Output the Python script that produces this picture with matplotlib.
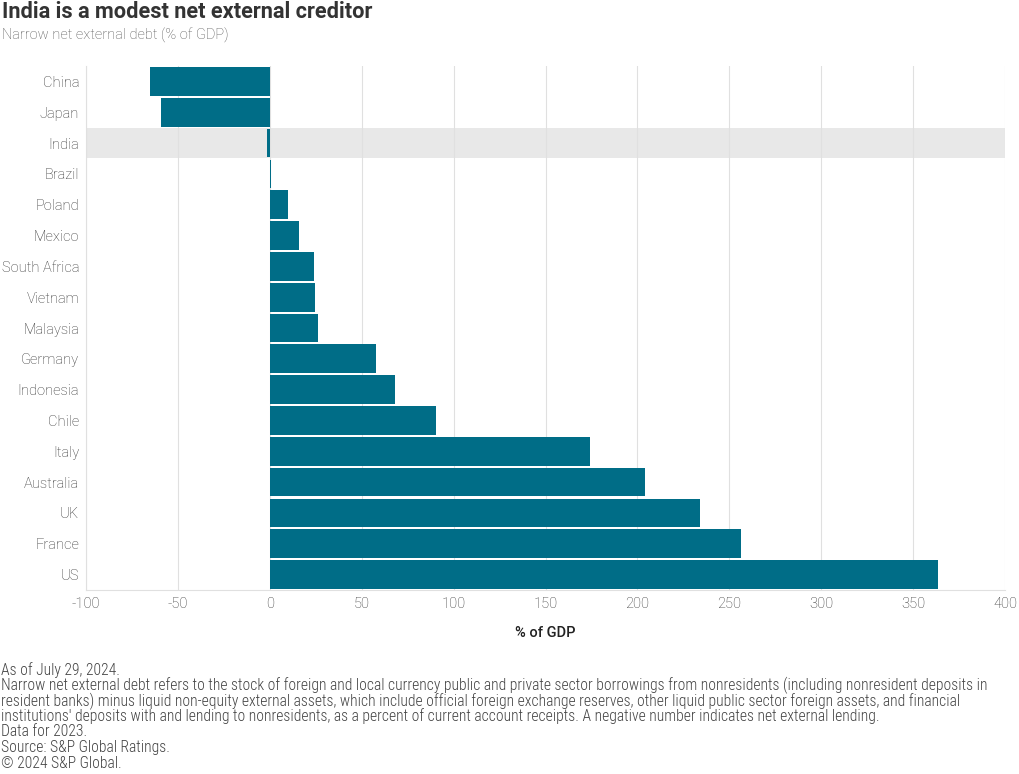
import matplotlib

matplotlib.use("Agg")
import matplotlib.pyplot as plt
from matplotlib import font_manager as fm

countries = ["China", "Japan", "India", "Brazil", "Poland", "Mexico", "South Africa",
             "Vietnam", "Malaysia", "Germany", "Indonesia", "Chile", "Italy",
             "Australia", "UK", "France", "US"]
values = [-65, -59, -1.5, 0.8, 10, 16, 24, 24.5, 26, 58, 68, 90.5, 174, 204, 234, 256.5, 363.5]
highlight = "India"
xticks = [-100, -50, 0, 50, 100, 150, 200, 250, 300, 350, 400]

BAR = "#006d87"
INK = "#333333"
TICK = "#333333"
GRID = "#e0e0e0"

names = {f.name for f in fm.fontManager.ttflist}
NARROW = next((n for n in ["Roboto Condensed", "Liberation Sans Narrow", "DejaVu Sans Condensed"]
               if n in names), "Roboto")

plt.rcParams.update({"font.family": ["Roboto", "DejaVu Sans"], "font.size": 10})

fig = plt.figure(figsize=(10.2, 7.74), dpi=100)
ax = fig.add_axes([86 / 1020, 1 - 590 / 774, (1005 - 86) / 1020, (590 - 66) / 774])

y = list(range(len(countries)))
hi = countries.index(highlight)
ax.axhspan(hi - 0.5, hi + 0.5, color="#e8e8e8", zorder=0, lw=0)
ax.barh(y, values, height=0.93, color=BAR, linewidth=0, zorder=3)

ax.set_xlim(-100, 400)
ax.set_ylim(len(countries) - 0.5, -0.5)
ax.set_xticks(xticks)
ax.set_xticklabels([str(t) for t in xticks], color=TICK, fontsize=10.5, fontweight="light")
ax.set_yticks(y)
ax.set_yticklabels(countries, color=TICK, fontsize=10.5, fontweight="light")
ax.tick_params(length=0, pad=5)
ax.tick_params(axis="y", pad=5)
ax.grid(axis="x", color=GRID, linewidth=0.8, zorder=1)
ax.set_axisbelow(True)
for s in ("top", "right"):
    ax.spines[s].set_visible(False)
for s in ("left", "bottom"):
    ax.spines[s].set_color(GRID)
    ax.spines[s].set_linewidth(0.8)
ax.set_xlabel("% of GDP", color="#222222", fontsize=10.5, labelpad=11, fontweight="medium")

fig.text(2 / 1020, 1 - 12 / 774, "India is a modest net external creditor", fontsize=15.7,
         fontweight="bold", color=INK, va="center", ha="left")
fig.text(2 / 1020, 1 - 35 / 774, "Narrow net external debt (% of GDP)", fontsize=10.5,
         color="#555555", va="center", ha="left", fontweight="light")

notes = [
    "As of July 29, 2024.",
    "Narrow net external debt refers to the stock of foreign and local currency public and private sector borrowings from nonresidents (including nonresident deposits in",
    "resident banks) minus liquid non-equity external assets, which include official foreign exchange reserves, other liquid public sector foreign assets, and financial",
    "institutions' deposits with and lending to nonresidents, as a percent of current account receipts. A negative number indicates net external lending.",
    "Data for 2023.",
    "Source: S&P Global Ratings.",
    "\u00a9 2024 S&P Global.",
]
texts = [fig.text(1 / 1020, 1 - (670 + i * 15.5) / 774, line, fontsize=10, family=NARROW,
                  color="#444444", va="center", ha="left", fontweight="light")
         for i, line in enumerate(notes)]

# scale the footnote so its longest line spans the reference width (~985 px)
renderer = fig.canvas.get_renderer()
widest = max(t.get_window_extent(renderer).width for t in texts)
size = min(10 * 985 / widest, 11.5)
for t in texts:
    t.set_fontsize(size)

fig.savefig("out.png", dpi=100)
